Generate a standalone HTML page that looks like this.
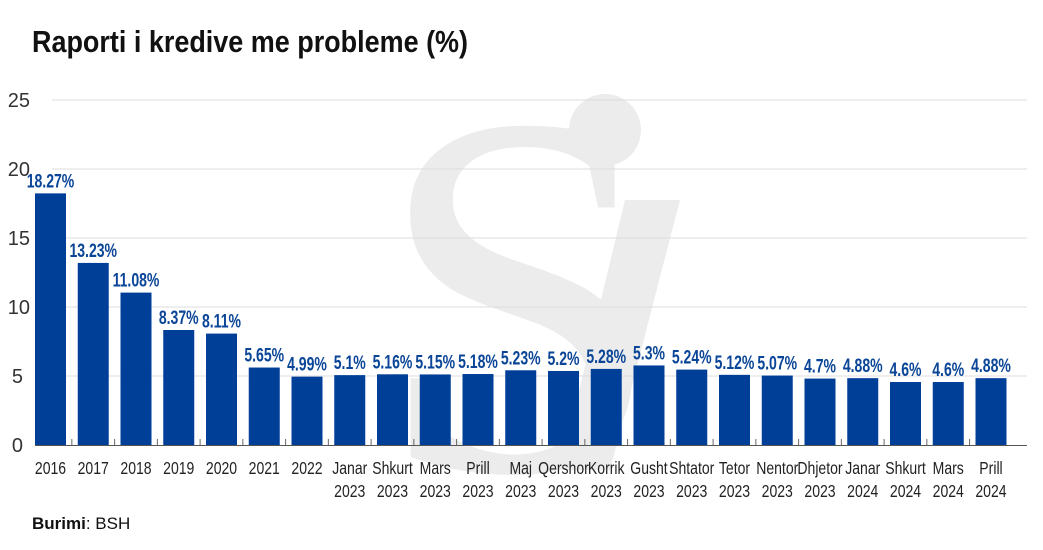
<!DOCTYPE html>
<html><head><meta charset="utf-8"><style>
html,body{margin:0;background:#fff;width:1043px;height:550px;overflow:hidden}
svg{display:block}
svg text{font-family:"Liberation Sans",sans-serif}
</style></head><body>
<svg width="1043" height="550" xmlns="http://www.w3.org/2000/svg">
<defs><clipPath id="cp"><rect x="0" y="0" width="1043" height="550"/></clipPath></defs>
<g fill="#ececec" clip-path="url(#cp)">
<text x="520" y="470" font-size="520" text-anchor="middle" style="font-family:'Liberation Serif',serif">S</text>
<circle cx="605" cy="130" r="36"/>
<path d="M625 200 L680 200 L610 470 L560 470 Z"/>
</g>
<g stroke="#dcdcdc" stroke-width="1">
<line x1="52" y1="100" x2="1027" y2="100"/>
<line x1="52" y1="169" x2="1027" y2="169"/>
<line x1="52" y1="238" x2="1027" y2="238"/>
<line x1="52" y1="307" x2="1027" y2="307"/>
<line x1="52" y1="376" x2="1027" y2="376"/>
</g>
<text x="32" y="52" font-size="31" font-weight="bold" fill="#111" transform="translate(32,0) scale(0.87,1) translate(-32,0)">Raporti i kredive me probleme (%)</text>
<g font-size="20" fill="#333" text-anchor="end">
<text x="30" y="107">25</text><text x="30" y="176">20</text><text x="30" y="245">15</text>
<text x="30" y="314">10</text><text x="23" y="383">5</text><text x="23" y="452">0</text>
</g>
<g id="bars"></g>
<line x1="35" y1="445.5" x2="1027" y2="445.5" stroke="#555" stroke-width="1"/>
<text x="32" y="529" font-size="17" fill="#111"><tspan font-weight="bold">Burimi</tspan>: BSH</text>
</svg>
<script>
var d=[["2016","",18.27,"18.27%"],["2017","",13.23,"13.23%"],["2018","",11.08,"11.08%"],["2019","",8.37,"8.37%"],["2020","",8.11,"8.11%"],["2021","",5.65,"5.65%"],["2022","",4.99,"4.99%"],["Janar","2023",5.1,"5.1%"],["Shkurt","2023",5.16,"5.16%"],["Mars","2023",5.15,"5.15%"],["Prill","2023",5.18,"5.18%"],["Maj","2023",5.45,"5.23%"],["Qershor","2023",5.4,"5.2%"],["Korrik","2023",5.55,"5.28%"],["Gusht","2023",5.8,"5.3%"],["Shtator","2023",5.5,"5.24%"],["Tetor","2023",5.12,"5.12%"],["Nentor","2023",5.07,"5.07%"],["Dhjetor","2023",4.85,"4.7%"],["Janar","2024",4.88,"4.88%"],["Shkurt","2024",4.6,"4.6%"],["Mars","2024",4.6,"4.6%"],["Prill","2024",4.88,"4.88%"]];
var g=document.getElementById("bars"),s="";
function sc(c,k){return 'transform="translate('+c+',0) scale('+k+',1) translate('+(-c)+',0)"';}
d.forEach(function(e,i){var c=50.5+42.75*i,h=e[2]*13.8,y=445.5-h;
s+='<rect x="'+(c-15.5)+'" y="'+y+'" width="31" height="'+h+'" fill="#003f98"/>';
if(i>0)s+='<line x1="'+(c-21.4)+'" y1="439" x2="'+(c-21.4)+'" y2="445" stroke="#666"/>';
s+='<text x="'+c+'" y="'+(y-6)+'" font-size="19.5" font-weight="bold" fill="#0a4597" text-anchor="middle" '+sc(c,0.72)+'>'+e[3]+'</text>';
s+='<text x="'+c+'" y="474" font-size="18" fill="#222" text-anchor="middle" '+sc(c,0.78)+'>'+e[0]+'</text>';
if(e[1])s+='<text x="'+c+'" y="497" font-size="18" fill="#222" text-anchor="middle" '+sc(c,0.78)+'>'+e[1]+'</text>';});
g.innerHTML=s;
</script>
</body></html>
